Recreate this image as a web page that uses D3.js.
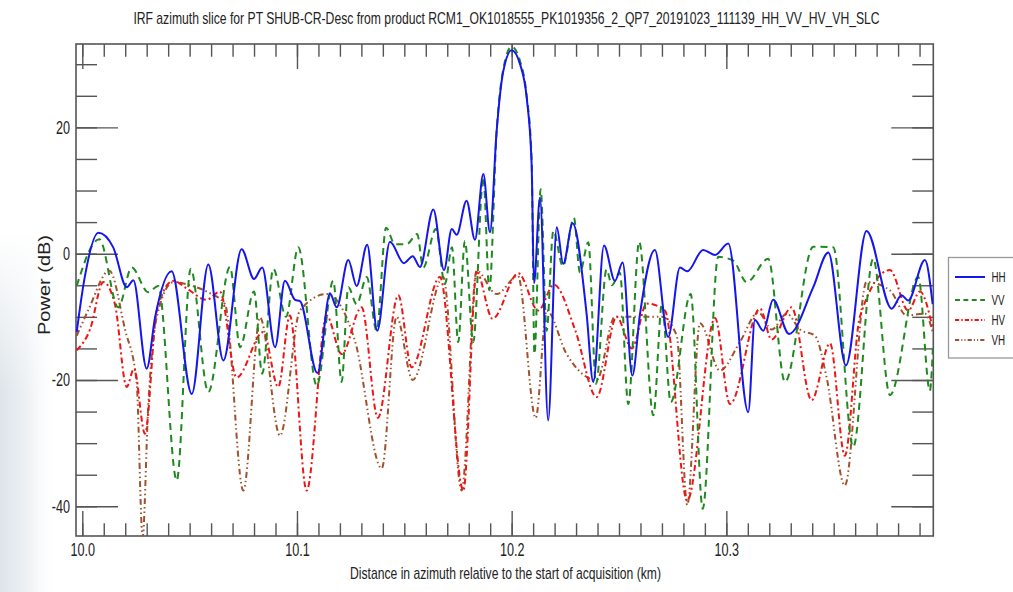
<!DOCTYPE html>
<html>
<head>
<meta charset="utf-8">
<script src="https://cdn.jsdelivr.net/npm/d3@7"></script>
<style>
  body { margin: 0; background: #fff; }
  svg { display: block; }
  text { font-family: "Liberation Sans", Arial, sans-serif; fill: #222; }
</style>
</head>
<body>
<div id="chart"></div>
<script>

const titleText = "IRF azimuth slice for PT SHUB-CR-Desc from product RCM1_OK1018555_PK1019356_2_QP7_20191023_111139_HH_VV_HV_VH_SLC";
const xLabelText = "Distance in azimuth relative to the start of acquisition (km)";
const yLabelText = "Power (dB)";

const xMajor = [10.0, 10.1, 10.2, 10.3];
const yMajor = [-40, -20, 0, 20];

const seriesNames = ["HH", "VV", "HV", "VH"];

// [distance km, power dB]
const hhPoints = [
    [9.9974, -12.4], [10.0010, -4.0], [10.0075, 3.3], [10.0144, 1.0], [10.0207, -5.3],
    [10.0238, -4.2], [10.0300, -18.2], [10.0339, -10.1], [10.0416, -2.8], [10.0510, -22.2],
    [10.0587, -1.7], [10.0657, -16.9], [10.0742, 0.7], [10.0800, -4.0], [10.0838, -2.2],
    [10.0898, -14.8], [10.0944, -4.3], [10.0991, -7.3], [10.1014, -7.5], [10.1095, -18.9],
    [10.1154, -6.3], [10.1185, -8.5], [10.1239, -1.0], [10.1278, -5.1], [10.1327, 1.4],
    [10.1374, -12.2], [10.1433, 1.9], [10.1498, -1.5], [10.1539, -0.4], [10.1573, -2.1],
    [10.1635, 7.0], [10.1685, -2.6], [10.1721, 3.9], [10.1744, 3.0], [10.1790, 8.4],
    [10.1829, 2.2], [10.1868, 12.6], [10.1899, 3.4], [10.1930, 19.4], [10.1961, 28.9],
    [10.2000, 32.2], [10.2039, 30.0], [10.2070, 24.7], [10.2093, 14.2], [10.2104, -4.7],
    [10.2132, 8.9], [10.2170, -26.4], [10.2210, 4.2], [10.2240, -1.6], [10.2284, 4.8],
    [10.2349, -9.5], [10.2380, -20.3], [10.2430, 1.3], [10.2481, -4.3], [10.2517, -1.4],
    [10.2562, -19.3], [10.2598, -9.5], [10.2667, 0.6], [10.2729, -13.2], [10.2784, -2.2],
    [10.2818, -2.8], [10.2892, 0.6], [10.2947, -0.2], [10.3009, 1.6], [10.3102, -25.1],
    [10.3133, -10.5], [10.3172, -12.2], [10.3218, -7.3], [10.3292, -12.7], [10.3405, -5.3],
    [10.3475, 0.2], [10.3557, -17.7], [10.3653, 3.6], [10.3770, -8.7], [10.3816, -6.6],
    [10.3847, -7.4], [10.3925, -1.0], [10.3961, -8.0]
];

const vvPoints = [
    [9.9974, -5.1], [10.0079, 2.3], [10.0168, -8.5], [10.0230, -2.2], [10.0307, -6.1],
    [10.0354, -5.1], [10.0440, -35.9], [10.0505, -2.4], [10.0587, -21.9], [10.0688, -2.1],
    [10.0735, -14.8], [10.0800, -6.0], [10.0838, -19.0], [10.0890, -2.4], [10.0949, -10.0],
    [10.1006, 1.0], [10.1092, -20.9], [10.1169, -4.3], [10.1208, -20.3], [10.1239, -5.3],
    [10.1278, -8.0], [10.1325, -3.7], [10.1371, -12.2], [10.1415, 4.1], [10.1456, 1.5],
    [10.1511, 1.5], [10.1560, 3.1], [10.1588, -2.2], [10.1647, 3.9], [10.1689, -4.8],
    [10.1722, 1.0], [10.1751, -14.0], [10.1782, 2.0], [10.1821, -14.0], [10.1868, 12.1],
    [10.1896, -5.8], [10.1930, 19.4], [10.1961, 29.2], [10.2000, 32.8], [10.2039, 30.5],
    [10.2070, 25.0], [10.2093, 15.0], [10.2106, -15.9], [10.2135, 10.2], [10.2163, -12.2],
    [10.2194, 3.6], [10.2239, -2.0], [10.2290, 5.7], [10.2318, -3.0], [10.2357, 1.8],
    [10.2393, -20.6], [10.2442, -2.5], [10.2467, -5.0], [10.2504, -3.0], [10.2543, -23.8],
    [10.2594, 1.9], [10.2660, -25.6], [10.2700, -8.0], [10.2741, -23.5], [10.2834, -6.4],
    [10.2890, -40.4], [10.2962, -0.5], [10.3032, -1.1], [10.3095, -4.5], [10.3195, -0.8],
    [10.3273, -20.3], [10.3405, 1.1], [10.3498, 1.0], [10.3591, -30.6], [10.3684, -0.8],
    [10.3762, -22.4], [10.3894, -3.7], [10.3948, -21.7], [10.3962, -15.0]
];

const hvPoints = [
    [9.9974, -15.3], [10.0036, -12.0], [10.0098, -4.5], [10.0152, -8.0], [10.0207, -21.1],
    [10.0241, -18.2], [10.0292, -28.5], [10.0347, -9.0], [10.0424, -4.3], [10.0486, -5.5],
    [10.0579, -7.3], [10.0641, -6.0], [10.0719, -19.6], [10.0843, -12.4], [10.0913, -21.1],
    [10.0967, -9.8], [10.1045, -37.5], [10.1138, -9.8], [10.1208, -15.9], [10.1301, -8.5],
    [10.1377, -26.0], [10.1472, -6.6], [10.1534, -18.0], [10.1666, -3.7], [10.1775, -37.5],
    [10.1837, -2.9], [10.1911, -10.3], [10.2031, -3.1], [10.2124, -9.0], [10.2197, -4.9],
    [10.2295, -12.0], [10.2396, -22.7], [10.2489, -10.0], [10.2560, -15.0], [10.2629, -7.9],
    [10.2714, -9.0], [10.2818, -39.1], [10.2947, -10.2], [10.3017, -23.8], [10.3157, -8.7],
    [10.3211, -13.6], [10.3304, -8.5], [10.3397, -23.2], [10.3483, -14.2], [10.3552, -32.0],
    [10.3622, -10.0], [10.3762, -2.6], [10.3847, -9.0], [10.3902, -6.0], [10.3962, -12.0]
];

const vhPoints = [
    [9.9974, -13.0], [10.0027, -9.0], [10.0126, -2.7], [10.0199, -12.0], [10.0253, -20.3],
    [10.0281, -44.9], [10.0306, -25.0], [10.0347, -10.0], [10.0424, -4.5], [10.0502, -5.0],
    [10.0579, -6.0], [10.0665, -8.0], [10.0750, -37.5], [10.0828, -10.1], [10.0921, -28.8],
    [10.1014, -9.0], [10.1138, -6.4], [10.1270, -13.8], [10.1395, -34.0], [10.1464, -10.0],
    [10.1539, -20.0], [10.1681, -3.7], [10.1767, -37.5], [10.1837, -2.7], [10.1930, -6.4],
    [10.2029, -3.5], [10.2112, -26.0], [10.2163, -9.0], [10.2256, -15.9], [10.2396, -20.0],
    [10.2481, -10.0], [10.2629, -10.0], [10.2699, -10.0], [10.2769, -13.0], [10.2818, -39.8],
    [10.2877, -11.0], [10.2970, -18.5], [10.3063, -14.0], [10.3149, -9.3], [10.3212, -12.0],
    [10.3281, -9.5], [10.3343, -12.0], [10.3413, -13.0], [10.3467, -19.6], [10.3552, -36.7],
    [10.3653, -4.5], [10.3762, -5.8], [10.3840, -9.8], [10.3925, -9.5], [10.3962, -12.5]
];

const seriesData = [hhPoints, vvPoints, hvPoints, vhPoints];
const seriesColors = ["#1515f0", "#1e8a1e", "#f01515", "#a0522d"];
const seriesDash = [null, "7,5", "6,3,2,3", "6,3,1.5,3,1.5,3"];

const width = 1013;
const height = 592;
const margin = { top: 44, right: 80, bottom: 56, left: 76 };
const squeeze = 0.7;   // the original text is condensed horizontally

const svg = d3.select("#chart")
    .append("svg")
    .attr("width", width)
    .attr("height", height);

// faint grey shading at the lower left of the screenshot
const defs = svg.append("defs");
const shadeH = defs.append("linearGradient")
    .attr("id", "shadeH")
    .attr("x1", "0").attr("y1", "0").attr("x2", "1").attr("y2", "0");
shadeH.append("stop").attr("offset", "0").attr("stop-color", "#dde4ea");
shadeH.append("stop").attr("offset", "0.45").attr("stop-color", "#edf1f4");
shadeH.append("stop").attr("offset", "1").attr("stop-color", "#ffffff").attr("stop-opacity", 0);
const shadeV = defs.append("linearGradient")
    .attr("id", "shadeV")
    .attr("x1", "0").attr("y1", "0").attr("x2", "0").attr("y2", "1");
shadeV.append("stop").attr("offset", "0").attr("stop-color", "#fff").attr("stop-opacity", 0);
shadeV.append("stop").attr("offset", "0.45").attr("stop-color", "#fff").attr("stop-opacity", 1);
shadeV.append("stop").attr("offset", "1").attr("stop-color", "#fff").attr("stop-opacity", 1);
defs.append("mask")
    .attr("id", "shadeMask")
    .append("rect")
    .attr("x", 0).attr("y", 230)
    .attr("width", 60).attr("height", 362)
    .attr("fill", "url(#shadeV)");
svg.append("rect")
    .attr("x", 0).attr("y", 230)
    .attr("width", 60).attr("height", 362)
    .attr("fill", "url(#shadeH)")
    .attr("mask", "url(#shadeMask)");

const x = d3.scaleLinear()
    .domain([9.99707, 10.3964])
    .range([margin.left, width - margin.right + 0.3]);

const y = d3.scaleLinear()
    .domain([-44.7, 33.2])
    .range([height - margin.bottom, margin.top]);

const plotW = x.range()[1] - x.range()[0];
const plotH = y.range()[0] - y.range()[1];

defs.append("clipPath")
    .attr("id", "plotclip")
    .append("rect")
    .attr("x", margin.left)
    .attr("y", margin.top)
    .attr("width", plotW)
    .attr("height", plotH);

const xMinor = d3.range(0, 40)
    .map(function(i) { return 10 + i * 0.01; })
    .filter(function(d) { return d < 10.3964; });
const yMinor = d3.range(-40, 35, 5);

function axisStyle(g) {
    g.select(".domain").remove();
    g.selectAll(".tick line").attr("stroke", "#555").attr("stroke-width", 1.4);
}

// minor + major ticks, all four sides, drawn inward
svg.append("g")
    .attr("transform", "translate(0," + y.range()[0] + ")")
    .call(d3.axisBottom(x).tickValues(xMinor).tickSize(-12.7).tickFormat(""))
    .call(axisStyle);
svg.append("g")
    .attr("transform", "translate(0," + margin.top + ")")
    .call(d3.axisTop(x).tickValues(xMinor).tickSize(-12.7).tickFormat(""))
    .call(axisStyle);
svg.append("g")
    .attr("transform", "translate(0," + margin.top + ")")
    .call(d3.axisTop(x).tickValues(xMajor).tickSize(-25).tickFormat(""))
    .call(axisStyle);

const xAxis = svg.append("g")
    .attr("transform", "translate(0," + y.range()[0] + ")")
    .call(d3.axisBottom(x).tickValues(xMajor).tickSize(-25).tickPadding(7)
        .tickFormat(d3.format(".1f")))
    .call(axisStyle);

svg.append("g")
    .attr("transform", "translate(" + margin.left + ",0)")
    .call(d3.axisLeft(y).tickValues(yMinor).tickSize(-21).tickFormat(""))
    .call(axisStyle);
svg.append("g")
    .attr("transform", "translate(" + x.range()[1] + ",0)")
    .call(d3.axisRight(y).tickValues(yMinor).tickSize(-21).tickFormat(""))
    .call(axisStyle);
svg.append("g")
    .attr("transform", "translate(" + x.range()[1] + ",0)")
    .call(d3.axisRight(y).tickValues(yMajor).tickSize(-42).tickFormat(""))
    .call(axisStyle);

const yAxis = svg.append("g")
    .attr("transform", "translate(" + margin.left + ",0)")
    .call(d3.axisLeft(y).tickValues(yMajor).tickSize(-42).tickPadding(6)
        .tickFormat(function(d) { return String(d); }))
    .call(axisStyle);

xAxis.selectAll("text").style("font-size", "18px").attr("fill", "#222");
yAxis.selectAll("text").style("font-size", "18px").attr("fill", "#222");

// frame
svg.append("rect")
    .attr("x", margin.left)
    .attr("y", margin.top)
    .attr("width", plotW)
    .attr("height", plotH)
    .attr("fill", "none")
    .attr("stroke", "#555")
    .attr("stroke-width", 1.6);

// series
const line = d3.line()
    .x(function(d) { return x(d[0]); })
    .y(function(d) { return y(d[1]); })
    .curve(d3.curveMonotoneX);

const plot = svg.append("g").attr("clip-path", "url(#plotclip)");

// draw back to front so the blue line sits on top
[3, 2, 1, 0].forEach(function(i) {
    plot.append("path")
        .datum(seriesData[i])
        .attr("d", line)
        .attr("fill", "none")
        .attr("stroke", seriesColors[i])
        .attr("stroke-width", 2)
        .attr("stroke-dasharray", seriesDash[i]);
});

// squeeze a centred text to a given width with a transform
function fitWidth(t, cx, cy, target) {
    const w = t.node().getComputedTextLength();
    t.attr("transform", "translate(" + cx + "," + cy + ") scale(" + (target / w) + ",1)");
}

// title and axis labels
const title = svg.append("text")
    .attr("text-anchor", "middle")
    .style("font-size", "17px")
    .text(titleText);
fitWidth(title, 506.5, 24, 747);

const xLabel = svg.append("text")
    .attr("text-anchor", "middle")
    .style("font-size", "17px")
    .text(xLabelText);
fitWidth(xLabel, 505.5, 579, 311);

svg.append("text")
    .attr("transform", "translate(50,285) rotate(-90) scale(1,0.8)")
    .attr("text-anchor", "middle")
    .style("font-size", "20px")
    .text(yLabelText);

// condense tick labels like the original
function condense(sel) {
    sel.each(function() {
        const w = this.getComputedTextLength();
        d3.select(this)
            .attr("textLength", w * squeeze)
            .attr("lengthAdjust", "spacingAndGlyphs");
    });
}
condense(xAxis.selectAll("text"));
condense(yAxis.selectAll("text"));

// legend
const legend = svg.append("g").attr("transform", "translate(948.5,257.5)");
legend.append("rect")
    .attr("width", 70)
    .attr("height", 100.5)
    .attr("fill", "#fff")
    .attr("stroke", "#999")
    .attr("stroke-width", 1.3);

const legendY = [19.5, 42.5, 62.5, 82.5];
seriesNames.forEach(function(name, i) {
    legend.append("line")
        .attr("x1", 6.5).attr("x2", 36.5)
        .attr("y1", legendY[i]).attr("y2", legendY[i])
        .attr("stroke", seriesColors[i])
        .attr("stroke-width", 2)
        .attr("stroke-dasharray", seriesDash[i] ? seriesDash[i].split(",").map(function(v) { return v * 0.7; }).join(",") : null);
    const t = legend.append("text")
        .attr("x", 43)
        .attr("y", legendY[i] + 5)
        .style("font-size", "14px")
        .attr("fill", seriesColors[i])
        .text(name);
    condense(t);
});

</script>
</body>
</html>
